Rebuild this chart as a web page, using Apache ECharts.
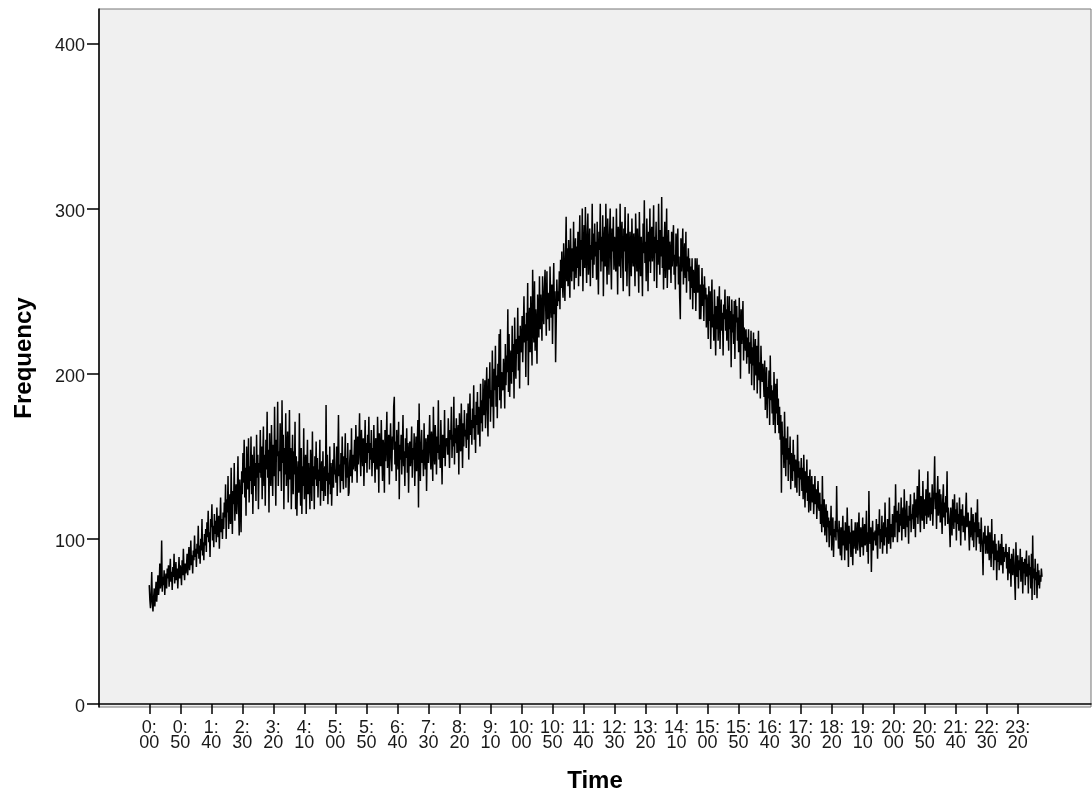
<!DOCTYPE html>
<html>
<head>
<meta charset="utf-8">
<script src="https://cdn.jsdelivr.net/npm/echarts@6/dist/echarts.min.js"></script>
<style>
html,body{margin:0;padding:0;background:#ffffff;}
#chart{width:1092px;height:798px;}
</style>
</head>
<body>
<div id="chart"></div>
<script>
// Tick labels on the time axis (every 50 minutes)
const tickLabels = ['0:00','0:50','1:40','2:30','3:20','4:10','5:00','5:50','6:40','7:30','8:20','9:10','10:00','10:50','11:40','12:30','13:20','14:10','15:00','15:50','16:40','17:30','18:20','19:10','20:00','20:50','21:40','22:30','23:20'];
const yTicks = [0, 100, 200, 300, 400];

// Frequency per minute, in two-hour blocks
const freqH00 = [
72,63,58,66,80,61,56,64,70,59,67,74,62,69,78,66,71,85,70,74,99,68,77,72,81,66,75,79,70,82,
76,84,71,79,88,74,80,69,83,77,91,73,78,86,75,82,70,79,89,76,84,80,72,87,78,94,81,75,85,79,
83,91,78,88,95,81,86,99,84,90,79,93,87,102,89,94,83,97,91,108,88,96,85,100,93,112,90,98,87,103,
96,106,92,110,101,117,98,104,89,112,107,121,99,108,95,115,103,111,98,119,106,101,114,94,109,125,104,112,100,116];
const freqH02 = [
106,122,113,133,100,124,116,138,106,118,127,109,143,119,103,129,121,146,111,125,133,115,128,150,119,102,136,124,104,141,
127,152,134,160,125,143,114,156,137,130,161,122,144,135,162,127,151,115,140,156,132,146,123,163,137,151,118,146,140,166,
137,156,124,148,168,132,151,120,160,142,177,137,154,116,164,144,132,169,148,126,157,138,180,145,120,160,150,183,132,153,
141,170,150,129,184,146,163,118,155,139,176,132,150,165,122,146,178,136,155,118,143,163,127,153,139,171,118,150,114,137];
const freqH04 = [
147,128,176,137,120,155,115,144,132,167,124,141,151,115,139,160,127,146,134,118,154,141,123,165,132,144,118,150,136,159,
132,149,125,142,135,160,120,139,147,129,153,123,138,144,126,181,135,151,121,140,133,156,127,146,120,137,148,131,158,139,
142,134,156,126,148,175,138,145,128,152,135,162,140,130,150,145,164,131,149,137,158,126,128,146,154,138,167,134,151,142,
148,160,141,169,152,134,162,145,157,176,149,138,166,155,144,161,132,151,172,146,158,140,163,152,174,142,158,148,166,138];
const freqH06 = [
155,146,169,150,134,161,153,142,174,157,128,164,148,144,172,152,135,160,155,128,166,147,159,177,143,152,163,133,156,170,
150,141,162,154,180,186,145,159,135,166,152,142,171,124,157,148,163,139,155,175,144,153,132,161,149,167,140,158,128,152,
159,144,153,168,137,155,148,164,132,150,162,141,158,172,119,182,149,135,157,166,146,154,138,170,151,142,161,129,153,163,
146,159,175,151,142,165,156,135,180,153,145,169,158,139,162,152,184,148,157,143,172,154,133,163,159,149,178,144,161,156];
const freqH08 = [
161,151,173,157,143,166,160,180,149,163,156,186,145,167,158,173,152,162,169,139,176,159,153,182,164,143,170,156,178,162,
166,155,176,160,182,148,170,188,163,172,157,179,167,193,160,175,152,183,169,189,163,180,173,156,194,170,184,165,197,175,
177,196,167,187,204,178,162,197,185,207,171,190,180,214,188,167,203,190,217,180,199,173,206,192,224,184,227,179,201,192,
190,209,199,179,218,193,211,201,239,189,224,186,208,214,194,229,201,218,185,234,208,197,221,212,240,202,223,191,229,213];
const freqH10 = [
215,235,207,226,247,219,230,198,237,220,255,193,230,240,213,247,226,205,263,231,219,256,214,239,229,206,248,234,222,259,
227,248,237,220,259,239,230,252,263,241,223,262,233,249,242,226,265,245,234,254,218,246,267,236,250,207,231,257,241,250,
244,262,239,269,252,274,254,246,279,262,244,271,295,256,276,253,281,263,246,288,266,256,276,262,292,251,272,282,258,277,
264,286,253,277,296,259,281,269,300,250,273,290,264,301,277,255,283,297,260,274,288,253,278,269,303,258,285,266,291,271];
const freqH12 = [
280,257,292,269,248,286,275,303,262,283,268,296,247,278,289,265,303,272,254,294,277,260,284,300,268,251,288,274,295,263,
283,271,262,300,276,248,289,279,265,303,258,282,292,270,250,288,274,301,262,285,253,277,297,268,247,286,276,259,294,273,
265,285,274,253,297,279,262,288,271,249,298,277,259,283,270,247,291,273,305,267,280,256,294,276,250,286,268,300,261,282,
289,268,278,302,256,283,273,292,252,281,266,303,276,260,287,271,307,264,283,251,279,292,258,275,300,252,271,287,263,280];
const freqH14 = [
272,255,286,265,279,290,260,272,251,285,265,277,288,254,271,246,233,282,262,273,288,254,268,279,258,286,249,271,262,276,
256,270,245,265,252,270,239,263,256,249,270,238,260,270,249,257,266,233,254,233,247,264,241,254,232,259,245,252,228,248,
242,221,253,232,250,215,240,257,228,236,220,251,232,211,241,227,247,220,237,253,215,233,245,226,237,211,242,233,251,226,
239,220,247,230,214,247,227,238,204,245,225,236,218,244,209,245,231,241,220,234,213,246,225,197,239,218,231,244,208,228];
const freqH16 = [
224,214,227,206,222,210,227,200,219,206,226,193,216,205,225,190,211,221,199,217,188,209,226,196,207,185,217,201,195,206,
197,186,208,178,193,204,173,192,185,202,169,211,184,193,176,190,169,201,184,164,194,176,197,169,185,164,180,160,175,128,
171,151,162,143,177,156,138,161,148,168,135,155,145,162,130,152,144,135,160,141,151,131,148,139,128,163,137,147,126,143,
136,149,129,143,124,151,135,119,141,128,148,123,138,116,134,142,117,129,138,122,133,115,127,138,121,130,112,126,135,119];
const freqH18 = [
117,128,109,121,104,138,114,107,124,102,113,121,98,117,107,113,95,111,102,120,93,107,113,89,106,101,111,99,132,106,
104,94,111,98,90,107,87,101,114,96,105,87,110,100,93,119,103,83,108,97,104,89,112,98,84,105,94,101,110,91,
100,110,93,104,116,97,89,107,100,95,113,90,103,109,96,99,117,92,104,85,129,102,97,107,80,100,111,93,104,99,
105,96,112,100,88,109,102,118,94,106,98,114,91,103,110,96,122,101,107,91,112,102,97,125,105,94,109,101,115,98];
const freqH20 = [
107,120,101,133,110,117,98,112,122,104,115,108,125,99,113,119,106,130,110,101,117,123,107,114,97,120,111,127,104,115,
112,121,106,128,117,101,124,113,132,109,120,142,115,104,126,121,111,135,117,106,124,114,130,109,121,141,113,119,128,111,
125,115,133,108,121,131,150,118,128,106,124,138,114,120,130,110,127,117,103,123,133,113,122,108,126,116,141,109,119,114,
107,95,119,111,102,124,115,106,127,110,118,99,122,109,115,105,125,113,96,118,108,121,104,114,110,99,117,128,107,112];
const freqH22 = [
116,104,93,111,101,119,107,99,115,95,110,104,116,93,107,124,101,110,97,106,92,113,101,95,78,104,97,108,91,102,
99,91,108,96,87,104,95,83,112,91,99,81,94,103,87,97,75,93,86,99,81,91,97,84,103,90,79,95,86,92,
89,97,82,92,75,86,95,79,88,71,91,84,78,94,86,75,63,98,83,77,90,70,87,81,94,74,84,89,67,86,
79,88,72,84,93,77,85,67,90,78,83,70,91,63,102,76,82,66,88,75,80,64,85,72,81,70,78,74,82,77];

const frequency = [].concat(freqH00, freqH02, freqH04, freqH06, freqH08, freqH10,
                            freqH12, freqH14, freqH16, freqH18, freqH20, freqH22);

// Axis padding (minutes) before the first and after the last minute, as in the picture
const PAD_BEFORE = 81, PAD_AFTER = 79, TICK_STEP = 50;
const categories = [];
for (let m = -PAD_BEFORE; m < frequency.length + PAD_AFTER; m++) categories.push(String(m));
const seriesData = categories.map(function (c, i) {
  const m = i - PAD_BEFORE;
  return (m >= 0 && m < frequency.length) ? frequency[m] : null;
});
function isTick(index) {
  const m = index - PAD_BEFORE;
  return m >= 0 && m % TICK_STEP === 0 && (m / TICK_STEP) < tickLabels.length;
}

const FONT = "'Liberation Sans', Arial, sans-serif";
const chart = echarts.init(document.getElementById('chart'), null, {renderer: 'canvas'});
chart.setOption({
  animation: false,
  backgroundColor: '#ffffff',
  grid: [
    {left: 99, right: 1, top: 9, bottom: 91, show: true, backgroundColor: '#f0f0f0', borderColor: '#777777', borderWidth: 1},
    {left: 99, right: 1, top: 43.5, bottom: 91}
  ],
  xAxis: [
    {gridIndex: 0, type: 'value', min: 0, max: 1, show: false},
    {
      gridIndex: 1, type: 'category', data: categories, boundaryGap: false,
      axisLine: {show: true, onZero: false, lineStyle: {color: '#000000', width: 1.5}},
      axisTick: {show: true, interval: isTick, length: 10, lineStyle: {color: '#000000', width: 1.5}},
      axisLabel: {
        interval: isTick, margin: 17, fontSize: 18, lineHeight: 15, color: '#1a1a1a', fontFamily: FONT,
        formatter: function (v, i) {
          const m = i - PAD_BEFORE;
          return tickLabels[m / TICK_STEP].replace(':', ':\n');
        }
      },
      splitLine: {show: false},
      name: 'Time', nameLocation: 'middle', nameGap: 65,
      nameTextStyle: {fontSize: 24, fontWeight: 'bold', color: '#000000', fontFamily: FONT}
    }
  ],
  yAxis: [
    {
      gridIndex: 0, type: 'value', min: 0, max: 1,
      axisLine: {show: true, onZero: false, lineStyle: {color: '#000000', width: 1.5}},
      axisTick: {show: false}, axisLabel: {show: false}, splitLine: {show: false},
      name: 'Frequency', nameLocation: 'middle', nameGap: 63,
      nameTextStyle: {fontSize: 24, fontWeight: 'bold', color: '#000000', fontFamily: FONT}
    },
    {
      gridIndex: 1, type: 'value', min: yTicks[0], max: yTicks[yTicks.length - 1], interval: 100,
      axisLine: {show: false},
      axisTick: {show: true, length: 12, lineStyle: {color: '#000000', width: 1.5}},
      axisLabel: {margin: 14, fontSize: 18, color: '#1a1a1a', fontFamily: FONT, verticalAlign: 'top', lineHeight: 6},
      splitLine: {show: false}
    }
  ],
  series: [{
    type: 'line', xAxisIndex: 1, yAxisIndex: 1, data: seriesData,
    symbol: 'none', showSymbol: false, connectNulls: false,
    lineStyle: {color: '#000000', width: 1.5}
  }]
});
</script>
</body>
</html>
